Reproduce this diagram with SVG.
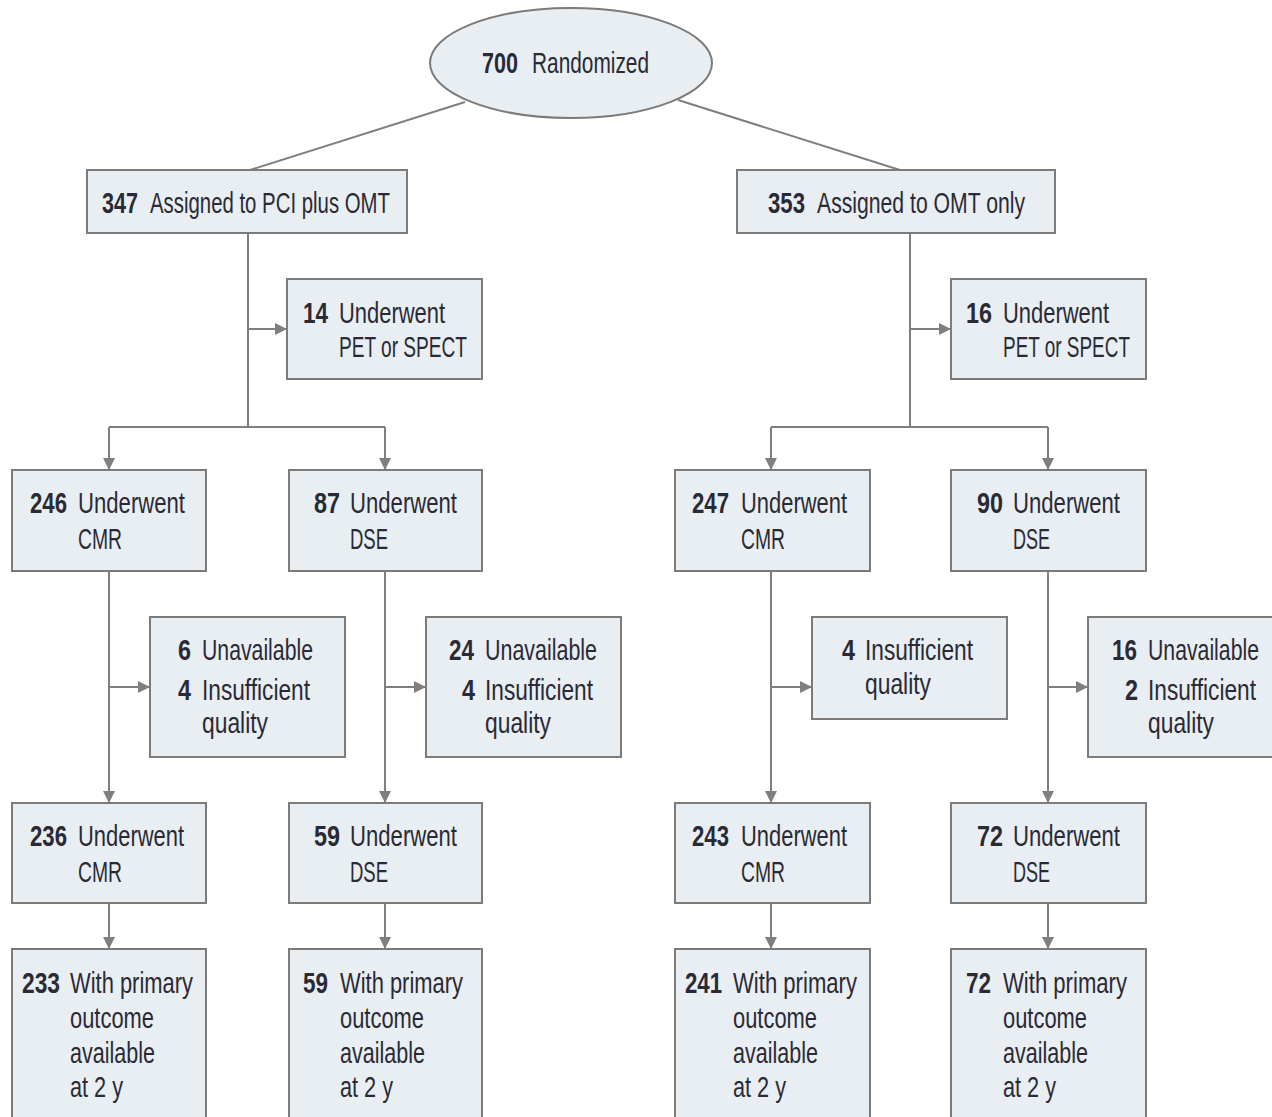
<svg xmlns="http://www.w3.org/2000/svg" width="1272" height="1117" viewBox="0 0 1272 1117">
<defs>
<style>
.bx{fill:#e8eef2;stroke:#7b7b7b;stroke-width:2}
.ln{fill:none;stroke:#7f7f7f;stroke-width:2}
text{font-family:"Liberation Sans",Arial,sans-serif;font-size:30px;fill:#2a2a36}
.n{font-weight:bold}
</style>
<marker id="ah" markerUnits="userSpaceOnUse" markerWidth="13" markerHeight="12" refX="12" refY="6" orient="auto">
<path d="M0,0 L12,6 L0,12 z" fill="#7f7f7f"/>
</marker>
</defs>
<rect width="1272" height="1117" fill="#ffffff"/>
<g id="connectors">
<path class="ln" d="M465,102 L250,170"/>
<path class="ln" d="M678,100 L900,170"/>
<path class="ln" d="M248,233 V427"/>
<path class="ln" d="M248,329 H287" marker-end="url(#ah)"/>
<path class="ln" d="M109,427 H385"/>
<path class="ln" d="M109,427 V470" marker-end="url(#ah)"/>
<path class="ln" d="M385,427 V470" marker-end="url(#ah)"/>
<path class="ln" d="M910,233 V427"/>
<path class="ln" d="M910,329 H951" marker-end="url(#ah)"/>
<path class="ln" d="M771,427 H1048"/>
<path class="ln" d="M771,427 V470" marker-end="url(#ah)"/>
<path class="ln" d="M1048,427 V470" marker-end="url(#ah)"/>
<path class="ln" d="M109,571 V803" marker-end="url(#ah)"/>
<path class="ln" d="M109,687 H150" marker-end="url(#ah)"/>
<path class="ln" d="M385,571 V803" marker-end="url(#ah)"/>
<path class="ln" d="M385,687 H426" marker-end="url(#ah)"/>
<path class="ln" d="M771,571 V803" marker-end="url(#ah)"/>
<path class="ln" d="M771,687 H812" marker-end="url(#ah)"/>
<path class="ln" d="M1048,571 V803" marker-end="url(#ah)"/>
<path class="ln" d="M1048,687 H1088" marker-end="url(#ah)"/>
<path class="ln" d="M109,903 V949" marker-end="url(#ah)"/>
<path class="ln" d="M385,903 V949" marker-end="url(#ah)"/>
<path class="ln" d="M771,903 V949" marker-end="url(#ah)"/>
<path class="ln" d="M1048,903 V949" marker-end="url(#ah)"/>
</g>
<g id="n700">
<ellipse class="bx" cx="571" cy="63" rx="141" ry="55"/>
<text class="n" x="482" y="73" textLength="36" lengthAdjust="spacingAndGlyphs">700</text>
<text x="532" y="73" textLength="117" lengthAdjust="spacingAndGlyphs">Randomized</text>
</g>
<g id="n347">
<rect class="bx" x="87" y="170" width="320" height="63"/>
<text class="n" x="102" y="213" textLength="36" lengthAdjust="spacingAndGlyphs">347</text>
<text x="150" y="213" textLength="240" lengthAdjust="spacingAndGlyphs">Assigned to PCI plus OMT</text>
</g>
<g id="n353">
<rect class="bx" x="737" y="170" width="318" height="63"/>
<text class="n" x="768" y="213" textLength="37" lengthAdjust="spacingAndGlyphs">353</text>
<text x="817" y="213" textLength="208" lengthAdjust="spacingAndGlyphs">Assigned to OMT only</text>
</g>
<g id="n14">
<rect class="bx" x="287" y="279" width="195" height="100"/>
<text class="n" x="303" y="323" textLength="25" lengthAdjust="spacingAndGlyphs">14</text>
<text x="339" y="323" textLength="106" lengthAdjust="spacingAndGlyphs">Underwent</text>
<text x="339" y="357" textLength="128" lengthAdjust="spacingAndGlyphs">PET or SPECT</text>
</g>
<g id="n16a">
<rect class="bx" x="951" y="279" width="195" height="100"/>
<text class="n" x="966" y="323" textLength="26" lengthAdjust="spacingAndGlyphs">16</text>
<text x="1003" y="323" textLength="106" lengthAdjust="spacingAndGlyphs">Underwent</text>
<text x="1003" y="357" textLength="127" lengthAdjust="spacingAndGlyphs">PET or SPECT</text>
</g>
<g id="n246">
<rect class="bx" x="12" y="470" width="194" height="101"/>
<text class="n" x="30" y="513" textLength="37" lengthAdjust="spacingAndGlyphs">246</text>
<text x="78" y="513" textLength="107" lengthAdjust="spacingAndGlyphs">Underwent</text>
<text x="78" y="549" textLength="44" lengthAdjust="spacingAndGlyphs">CMR</text>
</g>
<g id="n87">
<rect class="bx" x="289" y="470" width="193" height="101"/>
<text class="n" x="314" y="513" textLength="26" lengthAdjust="spacingAndGlyphs">87</text>
<text x="350" y="513" textLength="107" lengthAdjust="spacingAndGlyphs">Underwent</text>
<text x="350" y="549" textLength="38" lengthAdjust="spacingAndGlyphs">DSE</text>
</g>
<g id="n247">
<rect class="bx" x="675" y="470" width="195" height="101"/>
<text class="n" x="692" y="513" textLength="37" lengthAdjust="spacingAndGlyphs">247</text>
<text x="741" y="513" textLength="106" lengthAdjust="spacingAndGlyphs">Underwent</text>
<text x="741" y="549" textLength="44" lengthAdjust="spacingAndGlyphs">CMR</text>
</g>
<g id="n90">
<rect class="bx" x="951" y="470" width="195" height="101"/>
<text class="n" x="977" y="513" textLength="26" lengthAdjust="spacingAndGlyphs">90</text>
<text x="1013" y="513" textLength="107" lengthAdjust="spacingAndGlyphs">Underwent</text>
<text x="1013" y="549" textLength="37" lengthAdjust="spacingAndGlyphs">DSE</text>
</g>
<g id="n6">
<rect class="bx" x="150" y="617" width="195" height="140"/>
<text class="n" x="178" y="660" textLength="13" lengthAdjust="spacingAndGlyphs">6</text>
<text x="202" y="660" textLength="111" lengthAdjust="spacingAndGlyphs">Unavailable</text>
<text class="n" x="178" y="700" textLength="13" lengthAdjust="spacingAndGlyphs">4</text>
<text x="202" y="700" textLength="108" lengthAdjust="spacingAndGlyphs">Insufficient</text>
<text x="202" y="733" textLength="66" lengthAdjust="spacingAndGlyphs">quality</text>
</g>
<g id="n24">
<rect class="bx" x="426" y="617" width="195" height="140"/>
<text class="n" x="449" y="660" textLength="25" lengthAdjust="spacingAndGlyphs">24</text>
<text x="485" y="660" textLength="112" lengthAdjust="spacingAndGlyphs">Unavailable</text>
<text class="n" x="462" y="700" textLength="13" lengthAdjust="spacingAndGlyphs">4</text>
<text x="485" y="700" textLength="108" lengthAdjust="spacingAndGlyphs">Insufficient</text>
<text x="485" y="733" textLength="66" lengthAdjust="spacingAndGlyphs">quality</text>
</g>
<g id="n4">
<rect class="bx" x="812" y="617" width="195" height="102"/>
<text class="n" x="842" y="660" textLength="13" lengthAdjust="spacingAndGlyphs">4</text>
<text x="865" y="660" textLength="108" lengthAdjust="spacingAndGlyphs">Insufficient</text>
<text x="865" y="694" textLength="66" lengthAdjust="spacingAndGlyphs">quality</text>
</g>
<g id="n16b">
<rect class="bx" x="1088" y="617" width="190" height="140"/>
<text class="n" x="1112" y="660" textLength="25" lengthAdjust="spacingAndGlyphs">16</text>
<text x="1148" y="660" textLength="111" lengthAdjust="spacingAndGlyphs">Unavailable</text>
<text class="n" x="1125" y="700" textLength="13" lengthAdjust="spacingAndGlyphs">2</text>
<text x="1148" y="700" textLength="108" lengthAdjust="spacingAndGlyphs">Insufficient</text>
<text x="1148" y="733" textLength="66" lengthAdjust="spacingAndGlyphs">quality</text>
</g>
<g id="n236">
<rect class="bx" x="12" y="803" width="194" height="100"/>
<text class="n" x="30" y="846" textLength="37" lengthAdjust="spacingAndGlyphs">236</text>
<text x="78" y="846" textLength="106" lengthAdjust="spacingAndGlyphs">Underwent</text>
<text x="78" y="882" textLength="44" lengthAdjust="spacingAndGlyphs">CMR</text>
</g>
<g id="n59a">
<rect class="bx" x="289" y="803" width="193" height="100"/>
<text class="n" x="314" y="846" textLength="26" lengthAdjust="spacingAndGlyphs">59</text>
<text x="350" y="846" textLength="107" lengthAdjust="spacingAndGlyphs">Underwent</text>
<text x="350" y="882" textLength="38" lengthAdjust="spacingAndGlyphs">DSE</text>
</g>
<g id="n243">
<rect class="bx" x="675" y="803" width="195" height="100"/>
<text class="n" x="692" y="846" textLength="37" lengthAdjust="spacingAndGlyphs">243</text>
<text x="741" y="846" textLength="106" lengthAdjust="spacingAndGlyphs">Underwent</text>
<text x="741" y="882" textLength="44" lengthAdjust="spacingAndGlyphs">CMR</text>
</g>
<g id="n72a">
<rect class="bx" x="951" y="803" width="195" height="100"/>
<text class="n" x="977" y="846" textLength="26" lengthAdjust="spacingAndGlyphs">72</text>
<text x="1013" y="846" textLength="107" lengthAdjust="spacingAndGlyphs">Underwent</text>
<text x="1013" y="882" textLength="37" lengthAdjust="spacingAndGlyphs">DSE</text>
</g>
<g id="n233">
<rect class="bx" x="12" y="949" width="194" height="180"/>
<text class="n" x="22" y="993" textLength="38" lengthAdjust="spacingAndGlyphs">233</text>
<text x="70" y="993" textLength="123" lengthAdjust="spacingAndGlyphs">With primary</text>
<text x="70" y="1028" textLength="84" lengthAdjust="spacingAndGlyphs">outcome</text>
<text x="70" y="1063" textLength="85" lengthAdjust="spacingAndGlyphs">available</text>
<text x="70" y="1097" textLength="53" lengthAdjust="spacingAndGlyphs">at 2 y</text>
</g>
<g id="n59b">
<rect class="bx" x="289" y="949" width="193" height="180"/>
<text class="n" x="303" y="993" textLength="25" lengthAdjust="spacingAndGlyphs">59</text>
<text x="340" y="993" textLength="123" lengthAdjust="spacingAndGlyphs">With primary</text>
<text x="340" y="1028" textLength="84" lengthAdjust="spacingAndGlyphs">outcome</text>
<text x="340" y="1063" textLength="85" lengthAdjust="spacingAndGlyphs">available</text>
<text x="340" y="1097" textLength="53" lengthAdjust="spacingAndGlyphs">at 2 y</text>
</g>
<g id="n241">
<rect class="bx" x="675" y="949" width="195" height="180"/>
<text class="n" x="685" y="993" textLength="37" lengthAdjust="spacingAndGlyphs">241</text>
<text x="733" y="993" textLength="124" lengthAdjust="spacingAndGlyphs">With primary</text>
<text x="733" y="1028" textLength="84" lengthAdjust="spacingAndGlyphs">outcome</text>
<text x="733" y="1063" textLength="85" lengthAdjust="spacingAndGlyphs">available</text>
<text x="733" y="1097" textLength="53" lengthAdjust="spacingAndGlyphs">at 2 y</text>
</g>
<g id="n72b">
<rect class="bx" x="951" y="949" width="195" height="180"/>
<text class="n" x="966" y="993" textLength="25" lengthAdjust="spacingAndGlyphs">72</text>
<text x="1003" y="993" textLength="124" lengthAdjust="spacingAndGlyphs">With primary</text>
<text x="1003" y="1028" textLength="84" lengthAdjust="spacingAndGlyphs">outcome</text>
<text x="1003" y="1063" textLength="85" lengthAdjust="spacingAndGlyphs">available</text>
<text x="1003" y="1097" textLength="53" lengthAdjust="spacingAndGlyphs">at 2 y</text>
</g>
</svg>
